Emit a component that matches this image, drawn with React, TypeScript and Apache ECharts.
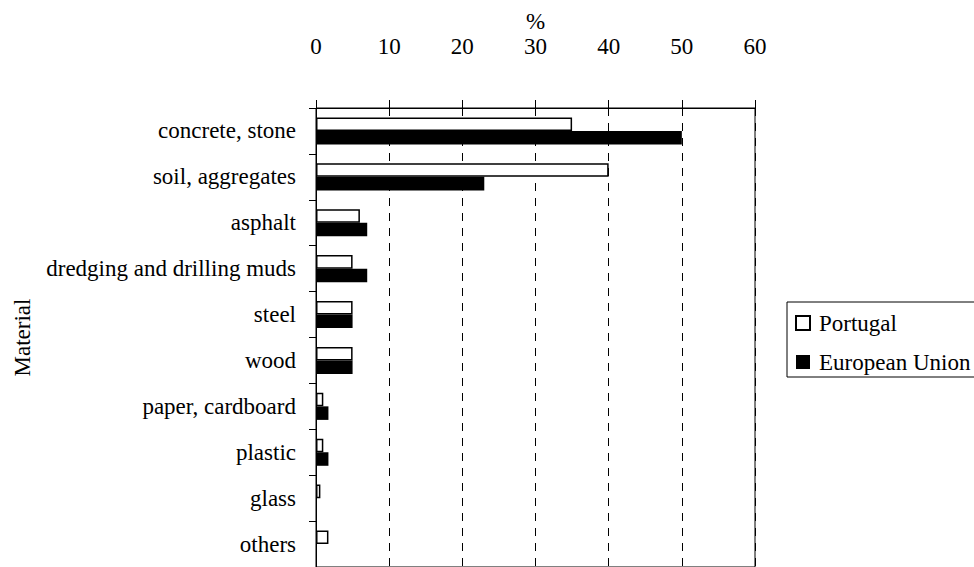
import React, { useEffect, useRef } from "react";
import * as echarts from "echarts";

// Material shares of construction and demolition waste (%)
const materials = [
  "concrete, stone",
  "soil, aggregates",
  "asphalt",
  "dredging and drilling muds",
  "steel",
  "wood",
  "paper, cardboard",
  "plastic",
  "glass",
  "others",
];
const portugal = [35, 40, 6, 5, 5, 5, 1, 1, 0.6, 1.7];
const europeanUnion = [50, 23, 7, 7, 5, 5, 1.7, 1.7, 0, 0];
const xTicks = { min: 0, max: 60, interval: 10 };

const FONT = "Liberation Serif";

export default function App() {
  const ref = useRef<HTMLDivElement>(null);

  useEffect(() => {
    document.body.style.margin = "0";
    if (!ref.current) return;
    const chart = echarts.init(ref.current, null, { renderer: "svg" });
    chart.setOption({
      animation: false,
      backgroundColor: "#ffffff",
      textStyle: { fontFamily: FONT, color: "#000" },
      grid: {
        left: 316,
        top: 108,
        width: 439,
        height: 460,
        show: true,
        borderColor: "#000",
        borderWidth: 1,
        backgroundColor: "transparent",
      },
      legend: {
        orient: "vertical",
        left: 787,
        top: 302,
        padding: [8, 8, 2, 8],
        borderColor: "#000",
        borderWidth: 1,
        itemWidth: 14,
        itemHeight: 14,
        itemGap: 13,
        icon: "rect",
        textStyle: {
          fontFamily: FONT,
          fontSize: 23,
          color: "#000",
          lineHeight: 26,
          padding: [0, 0, 0, 4],
        },
        data: ["Portugal", "European Union"],
      },
      xAxis: {
        type: "value",
        position: "top",
        min: xTicks.min,
        max: xTicks.max,
        interval: xTicks.interval,
        name: "%",
        nameLocation: "middle",
        nameGap: 75,
        nameMoveOverlap: false,
        nameTextStyle: { fontFamily: FONT, fontSize: 23, color: "#000" },
        axisLine: { show: true, lineStyle: { color: "#000", width: 1 } },
        axisTick: { show: true, length: 8, lineStyle: { color: "#000" } },
        axisLabel: {
          fontFamily: FONT,
          fontSize: 23,
          color: "#000",
          margin: 50,
        },
        splitLine: {
          show: true,
          lineStyle: { color: "#000", type: [8, 7], width: 1 },
        },
      },
      yAxis: {
        type: "category",
        inverse: true,
        data: materials,
        name: "Material",
        nameLocation: "middle",
        nameGap: 282,
        nameRotate: 90,
        nameMoveOverlap: false,
        nameTextStyle: { fontFamily: FONT, fontSize: 23, color: "#000" },
        axisLine: { show: true, lineStyle: { color: "#000", width: 1 } },
        axisTick: { show: true, length: 7, lineStyle: { color: "#000" } },
        axisLabel: {
          fontFamily: FONT,
          fontSize: 23,
          color: "#000",
          margin: 20,
        },
        splitLine: { show: false },
      },
      series: [
        {
          name: "Portugal",
          type: "bar",
          data: portugal,
          barGap: "0%",
          barCategoryGap: "41%",
          itemStyle: { color: "#fff", borderColor: "#000", borderWidth: 1.5 },
        },
        {
          name: "European Union",
          type: "bar",
          data: europeanUnion,
          barGap: "0%",
          barCategoryGap: "41%",
          itemStyle: { color: "#000" },
        },
      ],
    });
    return () => chart.dispose();
  }, []);

  return <div ref={ref} style={{ width: 974, height: 567 }} />;
}
